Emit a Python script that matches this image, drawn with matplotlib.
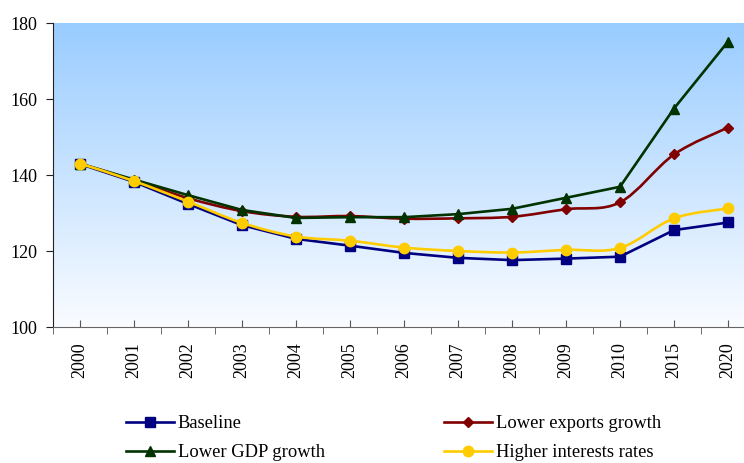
"""Debt scenarios chart: baseline vs. alternative assumptions."""
import matplotlib
matplotlib.use("Agg")
import matplotlib.pyplot as plt
import numpy as np
from matplotlib.lines import Line2D
from matplotlib.patches import PathPatch
from matplotlib.path import Path

years = ["2000", "2001", "2002", "2003", "2004", "2005", "2006",
         "2007", "2008", "2009", "2010", "2015", "2020"]

baseline = [142.9, 138.2, 132.4, 126.8, 123.2, 121.4, 119.5,
            118.2, 117.6, 118.0, 118.5, 125.5, 127.5]
lower_exports = [143.0, 138.6, 133.9, 130.5, 129.0, 129.2, 128.5,
                 128.6, 129.0, 131.0, 132.8, 145.4, 152.5]
lower_gdp = [143.0, 138.8, 134.7, 130.8, 128.7, 128.9, 128.9,
             129.7, 131.1, 134.0, 136.9, 157.5, 175.1]
higher_rates = [143.0, 138.4, 133.0, 127.4, 123.8, 122.7, 120.9,
                120.0, 119.6, 120.3, 120.8, 128.6, 131.2]

# label, values, colour, marker, marker size, smoothed line
series = [
    ("Baseline", baseline, "#000080", "s", 6.5, False),
    ("Lower exports growth", lower_exports, "#800000", "D", 5.5, True),
    ("Lower GDP growth", lower_gdp, "#003300", "^", 7.5, False),
    ("Higher interests rates", higher_rates, "#FFCC00", "o", 7.5, True),
]


def smooth_path(xs, ys):
    # Excel-style smoothed line as cubic bezier segments
    pts = np.column_stack([xs, ys]).astype(float)
    n = len(pts)
    verts = [pts[0]]
    codes = [Path.MOVETO]
    for i in range(n - 1):
        p0 = pts[max(i - 1, 0)]
        p1 = pts[i]
        p2 = pts[i + 1]
        p3 = pts[min(i + 2, n - 1)]
        verts += [p1 + (p2 - p0) / 6.0, p2 - (p3 - p1) / 6.0, p2]
        codes += [Path.CURVE4] * 3
    return Path(verts, codes)


plt.rcParams["font.family"] = ["Liberation Serif", "DejaVu Serif"]

fig = plt.figure(figsize=(7.44, 4.63), dpi=100)
ax = fig.add_axes([53 / 744, 1 - 327 / 463, 702 / 744, 304 / 463])

x = np.arange(len(years))
ax.set_xlim(-0.5, len(years) - 0.5)
ax.set_ylim(100, 180)

# vertical blue-to-white gradient background (row 0 = top)
grad = np.linspace(0, 1, 256).reshape(-1, 1)
top = np.array([153, 204, 255]) / 255.0
bottom = np.array([250, 252, 255]) / 255.0
img = top + (bottom - top) * grad[..., None]
ax.imshow(img, extent=(-0.5, len(years) - 0.5, 100, 180), aspect="auto",
          origin="upper", zorder=0)

handles = {}
for i, (label, vals, color, marker, ms, smooth) in enumerate(series):
    if smooth:
        patch = PathPatch(smooth_path(x, vals), fill=False, edgecolor=color,
                          lw=1.9, zorder=2 + i, capstyle="round")
        ax.add_patch(patch)
        ax.plot(x, vals, linestyle="none", marker=marker, ms=ms, color=color,
                markeredgecolor=color, zorder=2.5 + i)
    else:
        ax.plot(x, vals, lw=1.9, marker=marker, ms=ms, color=color,
                markeredgecolor=color, zorder=2 + i)
    handles[label] = Line2D([], [], color=color, lw=1.9, marker=marker,
                            ms=ms, markeredgecolor=color, label=label)

for side in ("top", "right"):
    ax.spines[side].set_visible(False)
ax.spines["left"].set_color("#222222")
ax.spines["bottom"].set_color("#666666")

ax.set_yticks([100, 120, 140, 160, 180])
ax.tick_params(axis="y", direction="out", length=5, pad=6, labelsize=13,
               color="#222222")
ax.set_xticks(x)
ax.set_xticklabels(years, rotation=90)
ax.set_xticks(np.arange(-0.5, len(years)), minor=True)
ax.tick_params(axis="x", which="major", direction="in", length=5, pad=11,
               labelsize=13, color="#555555")
ax.tick_params(axis="x", which="minor", direction="out", length=5,
               color="#555555")

# legend fills column by column: left column first
order = ["Baseline", "Lower GDP growth", "Lower exports growth", "Higher interests rates"]
fig.legend(handles=[handles[k] for k in order], loc="upper left",
           bbox_to_anchor=(126 / 744, 1 - 415 / 463),
           ncol=2, frameon=False, fontsize=13.3, handlelength=2.6,
           handletextpad=0.2, columnspacing=6.45, labelspacing=0.65,
           borderpad=0, borderaxespad=0)

fig.savefig("out.png", dpi=100)
